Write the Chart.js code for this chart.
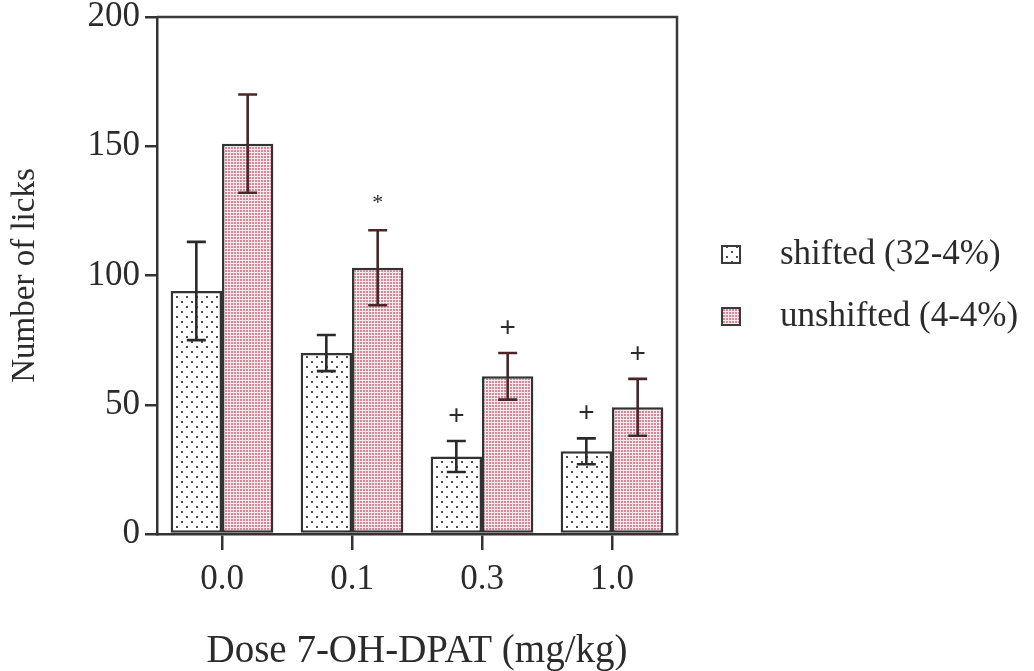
<!DOCTYPE html>
<html>
<head>
<meta charset="utf-8">
<script src="https://cdn.jsdelivr.net/npm/chart.js@4/dist/chart.umd.min.js"></script>
<style>
  html, body { margin: 0; padding: 0; background: #ffffff; }
  #wrap { width: 1034px; height: 671px; }
</style>
</head>
<body>
<div id="wrap"><canvas id="c" width="1034" height="671"></canvas></div>
<script>
// Lick counts (mean ± SEM) per 7-OH-DPAT dose
const doses = ['0.0', '0.1', '0.3', '1.0'];
const shiftedMean = [94, 70, 30, 32];
const shiftedSem = [19, 7, 6, 5];
const unshiftedMean = [151, 103, 61, 49];
const unshiftedSem = [19, 14.5, 9, 11];
// significance marks above each bar
const shiftedMarks = ['', '', '+', '+'];
const unshiftedMarks = ['', '*', '+', '+'];
const yTicks = [0, 50, 100, 150, 200];
const seriesNames = ['shifted (32-4%)', 'unshifted (4-4%)'];

const SERIF = "'Liberation Serif', 'Times New Roman', serif";
const INK = '#2b2b2b';
const canvas = document.getElementById('c');
const ctx0 = canvas.getContext('2d');

// dotted fills for the two groups
function dotPattern(bg, dot, tile, pts, size) {
  const t = document.createElement('canvas');
  t.width = tile; t.height = tile;
  const g = t.getContext('2d');
  g.fillStyle = bg; g.fillRect(0, 0, tile, tile);
  g.fillStyle = dot;
  pts.forEach(p => g.fillRect(p[0], p[1], size, size));
  return ctx0.createPattern(t, 'repeat');
}
const sparseDots = dotPattern('#ffffff', '#4d4d4d', 10, [[1, 1], [6, 6]], 2);
const pinkDots = dotPattern('#f9eaec', '#de8497', 3, [[0, 0]], 2);

const errorBars = {
  id: 'errorBars',
  afterDatasetsDraw(chart) {
    const ctx = chart.ctx, ys = chart.scales.y;
    chart.data.datasets.forEach((ds, i) => {
      const meta = chart.getDatasetMeta(i);
      meta.data.forEach((bar, j) => {
        const m = ds.data[j], e = ds.errors[j];
        const top = ys.getPixelForValue(m + e);
        const bot = ys.getPixelForValue(m - e);
        const half = 9.5;
        ctx.save();
        ctx.strokeStyle = ds.errorColor;
        ctx.lineWidth = 2.6;
        ctx.beginPath();
        ctx.moveTo(bar.x, top); ctx.lineTo(bar.x, bot);
        ctx.moveTo(bar.x - half, top); ctx.lineTo(bar.x + half, top);
        ctx.moveTo(bar.x - half, bot); ctx.lineTo(bar.x + half, bot);
        ctx.stroke();
        const mk = ds.marks[j];
        if (mk) {
          ctx.fillStyle = INK;
          ctx.textAlign = 'center';
          ctx.textBaseline = 'middle';
          if (mk === '*') {
            ctx.font = "22px " + SERIF;
            ctx.fillText(mk, bar.x, top - 27);
          } else {
            ctx.font = "28px 'Liberation Sans', Arial, sans-serif";
            ctx.fillText(mk, bar.x, top - 25);
          }
        }
        ctx.restore();
      });
    });
  }
};

// top and right sides of the plot box
const frame = {
  id: 'frame',
  afterDraw(chart) {
    const { ctx, chartArea: a } = chart;
    ctx.save();
    ctx.strokeStyle = '#3a3a3a';
    ctx.lineWidth = 2.5;
    ctx.beginPath();
    ctx.moveTo(a.left, a.top); ctx.lineTo(a.right, a.top); ctx.lineTo(a.right, a.bottom);
    ctx.stroke();
    ctx.restore();
  }
};

const sideLegend = {
  id: 'sideLegend',
  afterDraw(chart) {
    const { ctx, chartArea: a } = chart;
    const x = a.right + 45;
    const mid = (a.top + a.bottom) / 2 + 10;
    ctx.save();
    chart.data.datasets.forEach((ds, i) => {
      const cy = mid + (i === 0 ? -31 : 31);
      ctx.fillStyle = ds.backgroundColor;
      ctx.fillRect(x, cy - 8.5, 18, 17);
      ctx.strokeStyle = '#3a3a3a';
      ctx.lineWidth = 2;
      ctx.strokeRect(x, cy - 8.5, 18, 17);
      ctx.fillStyle = INK;
      ctx.font = "35px " + SERIF;
      ctx.textAlign = 'left';
      ctx.textBaseline = 'middle';
      ctx.fillText(ds.label, x + 58, cy);
    });
    ctx.restore();
  }
};

new Chart(canvas, {
  type: 'bar',
  data: {
    labels: doses,
    datasets: [
      {
        label: seriesNames[0],
        data: shiftedMean,
        errors: shiftedSem,
        marks: shiftedMarks,
        errorColor: '#2a2a2a',
        backgroundColor: sparseDots,
        borderColor: '#333333',
        borderWidth: 2.5,
        borderSkipped: false,
        categoryPercentage: 0.79,
        barPercentage: 1.0
      },
      {
        label: seriesNames[1],
        data: unshiftedMean,
        errors: unshiftedSem,
        marks: unshiftedMarks,
        errorColor: '#4a2628',
        backgroundColor: pinkDots,
        borderColor: '#333333',
        borderWidth: 2.5,
        borderSkipped: false,
        categoryPercentage: 0.79,
        barPercentage: 1.0
      }
    ]
  },
  options: {
    responsive: false,
    animation: false,
    devicePixelRatio: 1,
    layout: { padding: { left: 0, right: 357, top: 17, bottom: 0 } },
    plugins: { legend: { display: false }, tooltip: { enabled: false } },
    scales: {
      x: {
        offset: true,
        grid: { display: true, drawOnChartArea: false, drawTicks: true, tickLength: 16, offset: false, color: '#333333', lineWidth: 2.5 },
        border: { display: true, color: '#333333', width: 2.5 },
        ticks: { color: INK, font: { family: SERIF, size: 35, lineHeight: 1 }, padding: 12, maxRotation: 0 },
        title: { display: true, text: 'Dose 7-OH-DPAT (mg/kg)', color: INK, font: { family: SERIF, size: 39, lineHeight: 1 }, padding: { top: 0, bottom: 0 } },
        afterFit(s) { s.height = 137; s.paddingLeft = 0; s.paddingRight = 0; }
      },
      y: {
        min: 0, max: 200,
        grid: { display: true, drawOnChartArea: false, drawTicks: true, tickLength: 12, color: '#333333', lineWidth: 2.5 },
        border: { display: true, color: '#333333', width: 2.5 },
        ticks: { color: INK, font: { family: SERIF, size: 35, lineHeight: 1 }, padding: 5 },
        title: { display: true, text: 'Number of licks', color: INK, font: { family: SERIF, size: 33 }, padding: { top: 6, bottom: 0 } },
        afterBuildTicks(s) { s.ticks = yTicks.map(v => ({ value: v })); },
        afterFit(s) { s.width = 157; s.paddingTop = 0; s.paddingBottom = 0; }
      }
    }
  },
  plugins: [errorBars, frame, sideLegend]
});
</script>
</body>
</html>
